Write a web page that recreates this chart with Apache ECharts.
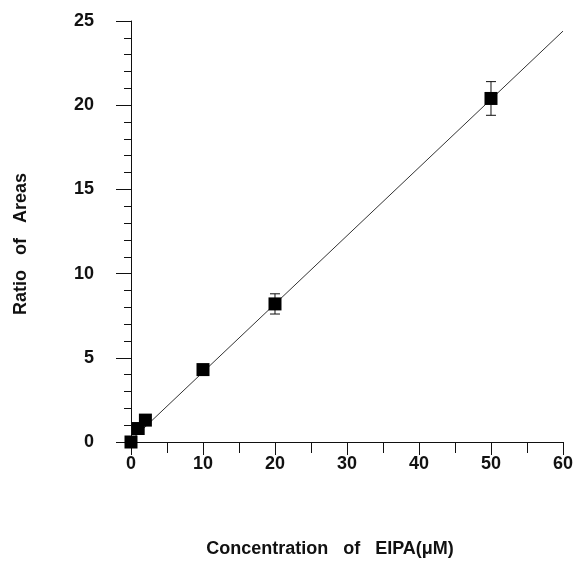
<!DOCTYPE html>
<html>
<head>
<meta charset="utf-8">
<script src="https://cdn.jsdelivr.net/npm/echarts@6/dist/echarts.min.js"></script>
<style>
  html, body { margin: 0; padding: 0; background: #fff; }
  #chart { width: 576px; height: 563px; }
</style>
</head>
<body>
<div id="chart"></div>
<script>
// EIPA concentration (µM) and measured ratio of peak areas
const concentration = [0, 1, 2, 10, 20, 50];
const ratio = [0, 0.8, 1.3, 4.3, 8.2, 20.4];
// half-width of error bars (0 = no visible bar)
const ratioError = [0, 0, 0, 0, 0.6, 1.0];
// linear fit drawn across the full range
const fitX = [0, 60];
const fitY = [0.1, 24.4];

const xTicks = [0, 10, 20, 30, 40, 50, 60];
const yTicks = [0, 5, 10, 15, 20, 25];

const FONT = 'Liberation Sans';
const INK = '#111';

const points = concentration.map((x, i) => [x, ratio[i]]);
const errorData = concentration.map((x, i) => [x, ratio[i] - ratioError[i], ratio[i] + ratioError[i]])
  .filter((d, i) => ratioError[i] > 0);
const fitData = fitX.map((x, i) => [x, fitY[i]]);

const chart = echarts.init(document.getElementById('chart'), null, { renderer: 'canvas' });

chart.setOption({
  backgroundColor: '#fff',
  animation: false,
  grid: { left: 131, right: 13, top: 21, bottom: 121, containLabel: false },
  xAxis: {
    type: 'value',
    min: xTicks[0],
    max: xTicks[xTicks.length - 1],
    interval: 10,
    axisLine: { show: true, onZero: false, lineStyle: { color: INK, width: 1 } },
    axisTick: { show: true, inside: false, length: 13, lineStyle: { color: INK, width: 1 } },
    minorTick: { show: true, splitNumber: 2, length: 11, lineStyle: { color: INK, width: 1 } },
    splitLine: { show: false },
    axisLabel: { margin: 13, color: INK, fontFamily: FONT, fontWeight: 'bold', fontSize: 18 }
  },
  yAxis: {
    type: 'value',
    min: yTicks[0],
    max: yTicks[yTicks.length - 1],
    interval: 5,
    axisLine: { show: true, onZero: false, lineStyle: { color: INK, width: 1 } },
    axisTick: { show: true, inside: false, length: 15, lineStyle: { color: INK, width: 1 } },
    minorTick: { show: true, splitNumber: 5, length: 7, lineStyle: { color: INK, width: 1 } },
    splitLine: { show: false },
    axisLabel: { margin: 37, color: INK, fontFamily: FONT, fontWeight: 'bold', fontSize: 18, padding: [4, 0, 0, 0] }
  },
  graphic: [
    {
      type: 'text',
      x: 21,
      y: 244,
      rotation: Math.PI / 2,
      style: {
        text: 'Ratio   of   Areas',
        x: 0,
        y: 0,
        align: 'center',
        verticalAlign: 'middle',
        fill: INK,
        font: 'bold 18px "Liberation Sans"'
      }
    },
    {
      type: 'text',
      x: 330,
      y: 549,
      style: {
        text: 'Concentration   of   EIPA(\u03bcM)',
        x: 0,
        y: 0,
        align: 'center',
        verticalAlign: 'middle',
        fill: INK,
        font: 'bold 18px "Liberation Sans"'
      }
    }
  ],
  series: [
    {
      type: 'line',
      data: fitData,
      symbol: 'none',
      lineStyle: { color: '#333', width: 1 },
      z: 1
    },
    {
      type: 'custom',
      data: errorData,
      z: 2,
      renderItem: function (params, api) {
        const x = api.value(0);
        const lo = api.coord([x, api.value(1)]);
        const hi = api.coord([x, api.value(2)]);
        const cap = 5;
        const style = { stroke: INK, lineWidth: 1 };
        return {
          type: 'group',
          children: [
            { type: 'line', shape: { x1: lo[0], y1: lo[1], x2: hi[0], y2: hi[1] }, style },
            { type: 'line', shape: { x1: lo[0] - cap, y1: lo[1], x2: lo[0] + cap, y2: lo[1] }, style },
            { type: 'line', shape: { x1: hi[0] - cap, y1: hi[1], x2: hi[0] + cap, y2: hi[1] }, style }
          ]
        };
      }
    },
    {
      type: 'scatter',
      data: points,
      symbol: 'rect',
      symbolSize: 13,
      itemStyle: { color: '#000', opacity: 1 },
      z: 3
    }
  ]
});
</script>
</body>
</html>
